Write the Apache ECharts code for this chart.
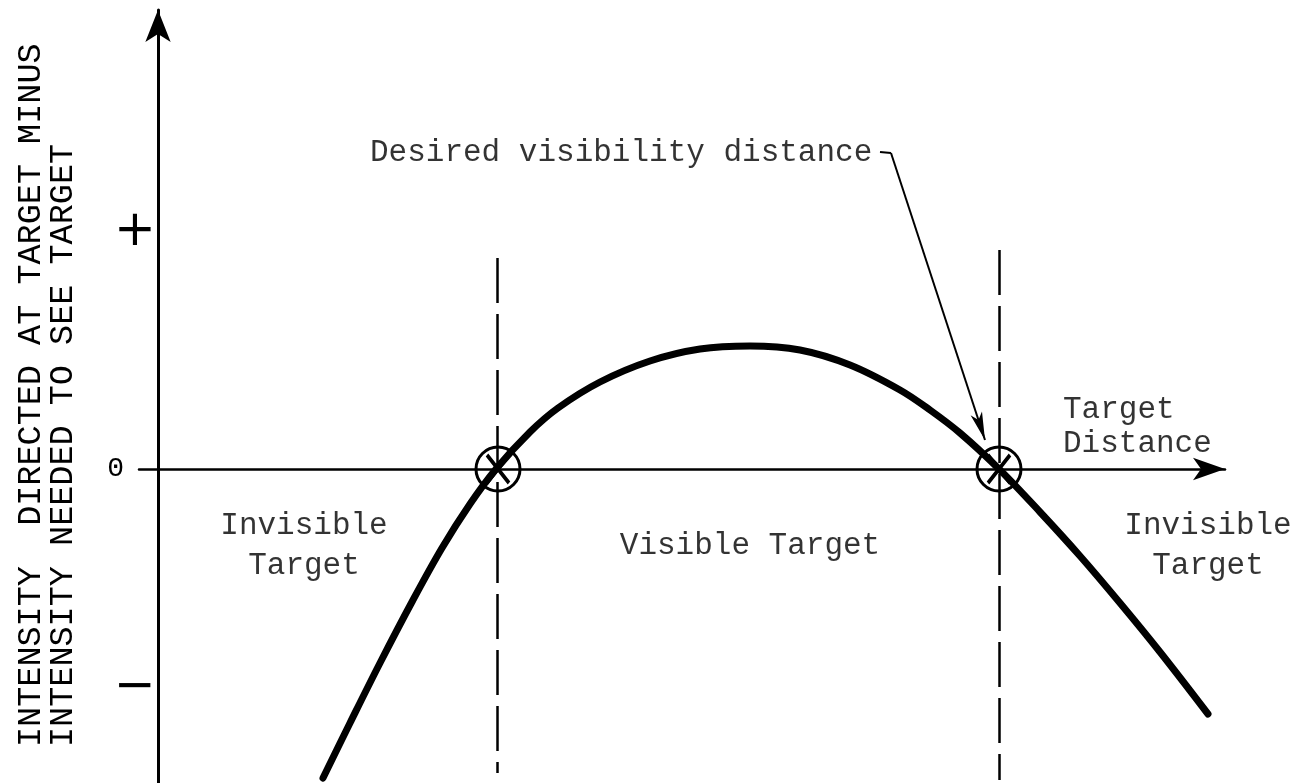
<!DOCTYPE html>
<html>
<head>
<meta charset="utf-8">
<script src="https://cdn.jsdelivr.net/npm/echarts@6/dist/echarts.min.js"></script>
<style>
html,body{margin:0;padding:0;background:#fff;}
#c{width:1304px;height:783px;}
</style>
</head>
<body>
<div id="c"></div>
<script>
// ---- data (arbitrary units) ----
const curveX = [16.5, 19.2, 22.2, 25.5, 28.4, 31.2, 33.8, 37.2, 40.0, 44.2, 49.2, 54.2, 59.2, 64.2, 69.2, 74.2, 77.2, 80.2, 84.1, 88.2, 92.2, 96.2, 100.2, 105.0];
const curveY = [-30.9, -25.4, -19.4, -13.1, -7.9, -3.5, 0.0, 3.7, 6.1, 8.7, 10.8, 12.0, 12.3, 11.9, 10.4, 7.9, 5.9, 3.6, 0.0, -4.3, -8.7, -13.4, -18.3, -24.5];
const crossingX = [34.0, 84.1];
const crossingY = [0, 0];
const boundaryX = [33.9, 84.1];
const boundaryTop = [21.1, 21.9];
const boundaryBottom = [-30.4, -31.1];
const yTickValues = [23.9, 0, -21.7];
const yTickLabels = ['+', '0', '\u2212'];
const yTitleLines = ['INTENSITY  DIRECTED AT TARGET MINUS', 'INTENSITY NEEDED TO SEE TARGET'];
const regionTexts = ['Invisible\nTarget', 'Visible Target', 'Invisible\nTarget'];
const regionX = [14.6, 59.2, 105.0];
const regionY = [-7.7, -7.7, -7.7];
const xAxisTitle = 'Target\nDistance';
const calloutText = 'Desired visibility distance';
const calloutPath = [[72.2, 31.7], [73.3, 31.6], [82.7, 2.9]];

const FONT = '"Liberation Mono", "DejaVu Sans Mono", monospace';
const chart = echarts.init(document.getElementById('c'), null, {renderer: 'canvas'});

const option = {
  backgroundColor: '#fff',
  animation: false,
  grid: {left: 139, right: 79, top: 10, bottom: 0, containLabel: false},
  xAxis: {
    type: 'value', min: -1.9, max: 106.7,
    axisLine: {onZero: true, symbol: ['none', 'arrow'], symbolSize: [17, 32], lineStyle: {color: '#000', width: 2.5}},
    axisTick: {show: false}, axisLabel: {show: false}, splitLine: {show: false}
  },
  yAxis: {
    type: 'value', min: -31.4, max: 45.9,
    axisLine: {onZero: true, symbol: ['none', 'arrow'], symbolSize: [19, 32], lineStyle: {color: '#000', width: 3}},
    axisTick: {show: false}, splitLine: {show: false},
    axisLabel: {
      show: true, margin: -17, customValues: yTickValues,
      formatter: function (v) {
        const i = yTickValues.indexOf(v);
        const t = i >= 0 ? yTickLabels[i] : '';
        return t === '0' ? '{zero|0}' : '{big|' + t + '}';
      },
      rich: {
        zero: {fontFamily: FONT, fontSize: 28, color: '#000', padding: [0, 32, 0, 0]},
        big: {fontFamily: '"DejaVu Sans"', fontSize: 50, color: '#000', padding: [4, 0, 0, 0]}
      }
    }
  },
  graphic: [
    {type: 'text', x: 31, y: 747, rotation: Math.PI / 2,
     style: {text: yTitleLines[0], fontFamily: FONT, fontSize: 33.5, fill: '#000', align: 'left', verticalAlign: 'middle'}},
    {type: 'text', x: 63, y: 747, rotation: Math.PI / 2,
     style: {text: yTitleLines[1], fontFamily: FONT, fontSize: 33.5, fill: '#000', align: 'left', verticalAlign: 'middle'}}
  ],
  series: [
    {
      type: 'line', name: 'curve', smooth: 0.35, showSymbol: false, symbol: 'none',
      data: curveX.map((x, i) => [x, curveY[i]]),
      lineStyle: {color: '#000', width: 7, cap: 'round', join: 'round'},
      z: 3,
      markLine: {
        silent: true, symbol: 'none', animation: false,
        label: {show: false},
        lineStyle: {color: '#000', width: 2.5, type: [45, 11]},
        data: boundaryX.map((x, i) => [{coord: [x, boundaryTop[i]]}, {coord: [x, boundaryBottom[i]]}])
          .concat([
            [{coord: calloutPath[0], lineStyle: {type: 'solid', width: 2.2}}, {coord: calloutPath[1]}],
            [{coord: calloutPath[1], lineStyle: {type: 'solid', width: 2}, symbol: 'none'},
             {coord: calloutPath[2], symbol: 'arrow', symbolSize: [9, 28]}]
          ])
      }
    },
    {
      type: 'scatter', name: 'crossing', symbol: 'circle', symbolSize: 44,
      data: crossingX.map((x, i) => [x, crossingY[i]]),
      itemStyle: {color: 'transparent', borderColor: '#000', borderWidth: 3, opacity: 1},
      z: 4
    },
    {
      type: 'scatter', name: 'crossingX', symbol: 'path://M0,0L10,12M10,0L0,12', symbolSize: [22, 28],
      data: crossingX.map((x, i) => [x, crossingY[i]]),
      itemStyle: {color: 'none', borderColor: '#000', borderWidth: 4, opacity: 1},
      z: 4
    },
    {
      type: 'scatter', name: 'regions', symbolSize: 0, silent: true,
      data: regionTexts.map((t, i) => ({name: t, value: [regionX[i], regionY[i]]})),
      label: {show: true, position: 'inside', formatter: '{b}', fontFamily: FONT, fontSize: 31, color: '#000', align: 'center', verticalAlign: 'middle', lineHeight: 40}
    },
    {
      type: 'scatter', name: 'axisTitle', symbolSize: 0, silent: true,
      data: [{name: xAxisTitle, value: [90.5, 4.2]}],
      label: {show: true, position: 'inside', formatter: '{b}', fontFamily: FONT, fontSize: 31, color: '#000', align: 'left', verticalAlign: 'middle', lineHeight: 34}
    },
    {
      type: 'scatter', name: 'callout', symbolSize: 0, silent: true,
      data: [{name: calloutText, value: [21.2, 31.6]}],
      label: {show: true, position: 'inside', formatter: '{b}', fontFamily: FONT, fontSize: 31, color: '#000', align: 'left', verticalAlign: 'middle'}
    }
  ]
};
chart.setOption(option);
</script>
</body>
</html>
